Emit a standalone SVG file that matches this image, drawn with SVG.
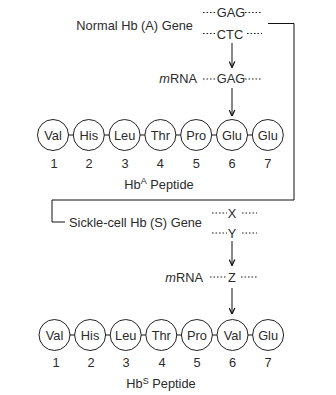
<svg xmlns="http://www.w3.org/2000/svg" width="336" height="395" viewBox="0 0 336 395">
<defs>
<style>
text{font-family:"Liberation Sans",Arial,sans-serif;font-size:12.8px;fill:#2b2b2b}
.c{text-anchor:middle}
.e{text-anchor:end}
.aa circle{fill:#fff;stroke:#222;stroke-width:1}
.ln{stroke:#111;stroke-width:1;fill:none}
.dot{stroke:#222;stroke-width:1;stroke-dasharray:1.6 1.9;fill:none}
.arr{stroke:#111;stroke-width:1;fill:none;marker-end:url(#ah)}
</style>
<marker id="ah" viewBox="0 0 10 10" refX="9.5" refY="5" markerWidth="7" markerHeight="7" markerUnits="userSpaceOnUse" orient="auto">
<path d="M1,1 L9.5,5 L1,9" fill="none" stroke="#111" stroke-width="1.8"/>
</marker>
</defs>

<g id="normal-gene">
<text x="193" y="29.5" class="e">Normal Hb (A) Gene</text>
<path class="dot" d="M203,12.5 H217 M245,12.5 H262"/>
<text x="231" y="16.8" class="c">GAG</text>
<path class="dot" d="M203,33.5 H217 M247,33.5 H262"/>
<text x="230" y="38.8" class="c">CTC</text>
</g>

<g id="normal-mrna">
<text x="197" y="83.3" class="e"><tspan font-style="italic">m</tspan>RNA</text>
<path class="dot" d="M203,79 H217 M245,79 H262"/>
<text x="231" y="83.3" class="c">GAG</text>
</g>

<g id="peptide-a" class="aa">
<circle cx="53" cy="135" r="15.5"/><circle cx="88.8" cy="135" r="15.5"/><circle cx="124.6" cy="135" r="15.5"/><circle cx="160.4" cy="135" r="15.5"/><circle cx="196.2" cy="135" r="15.5"/><circle cx="232" cy="135" r="15.5"/><circle cx="267.8" cy="135" r="15.5"/>
<path class="ln" d="M68.5,135 H73.3 M104.3,135 H109.1 M140.1,135 H144.9 M175.9,135 H180.7 M211.7,135 H216.5 M247.5,135 H252.3"/>
<text x="53" y="139.5" class="c">Val</text><text x="88.8" y="139.5" class="c">His</text><text x="124.6" y="139.5" class="c">Leu</text><text x="160.4" y="139.5" class="c">Thr</text><text x="196.2" y="139.5" class="c">Pro</text><text x="232" y="139.5" class="c">Glu</text><text x="267.8" y="139.5" class="c">Glu</text>
<text x="54" y="167.5" class="c">1</text><text x="89" y="167.5" class="c">2</text><text x="125" y="167.5" class="c">3</text><text x="160.4" y="167.5" class="c">4</text><text x="196.2" y="167.5" class="c">5</text><text x="232" y="167.5" class="c">6</text><text x="267.8" y="167.5" class="c">7</text>
<text x="159" y="188.5" class="c">Hb<tspan font-size="9" dy="-4.5">A</tspan><tspan dy="4.5"> Peptide</tspan></text>
</g>

<g id="sickle-gene">
<text x="69" y="226.5">Sickle-cell Hb (S) Gene</text>
<path class="dot" d="M212,213 H227 M242,213 H257"/>
<text x="232" y="217.5" class="c">X</text>
<path class="dot" d="M212,233 H227 M242,233 H257"/>
<text x="232" y="237.5" class="c">Y</text>
</g>

<g id="sickle-mrna">
<text x="203" y="281.5" class="e"><tspan font-style="italic">m</tspan>RNA</text>
<path class="dot" d="M210,277 H226 M241,277 H257"/>
<text x="232" y="281.5" class="c">Z</text>
</g>

<g id="peptide-s" class="aa">
<circle cx="54.5" cy="335" r="15.5"/><circle cx="90.1" cy="335" r="15.5"/><circle cx="125.7" cy="335" r="15.5"/><circle cx="161.3" cy="335" r="15.5"/><circle cx="196.9" cy="335" r="15.5"/><circle cx="232.5" cy="335" r="15.5"/><circle cx="268.1" cy="335" r="15.5"/>
<path class="ln" d="M70,335 H74.6 M105.6,335 H110.2 M141.2,335 H145.8 M176.8,335 H181.4 M212.4,335 H217 M248,335 H252.6"/>
<text x="54.5" y="339.5" class="c">Val</text><text x="90.1" y="339.5" class="c">His</text><text x="125.7" y="339.5" class="c">Leu</text><text x="161.3" y="339.5" class="c">Thr</text><text x="196.9" y="339.5" class="c">Pro</text><text x="232.5" y="339.5" class="c">Val</text><text x="268.1" y="339.5" class="c">Glu</text>
<text x="56" y="366.5" class="c">1</text><text x="91" y="366.5" class="c">2</text><text x="126" y="366.5" class="c">3</text><text x="162" y="366.5" class="c">4</text><text x="197" y="366.5" class="c">5</text><text x="232.5" y="366.5" class="c">6</text><text x="268.1" y="366.5" class="c">7</text>
<text x="161" y="388" class="c">Hb<tspan font-size="9" dy="-4.5">S</tspan><tspan dy="4.5"> Peptide</tspan></text>
</g>

<g id="connectors">
<path class="arr" d="M232,43 V67.5"/>
<path class="arr" d="M232,88 V116"/>
<path class="ln" d="M268,23.5 H294 V200 H52 V222 H65"/>
<path class="arr" d="M232,241 V265.5"/>
<path class="arr" d="M232,288 V314"/>
</g>
</svg>
